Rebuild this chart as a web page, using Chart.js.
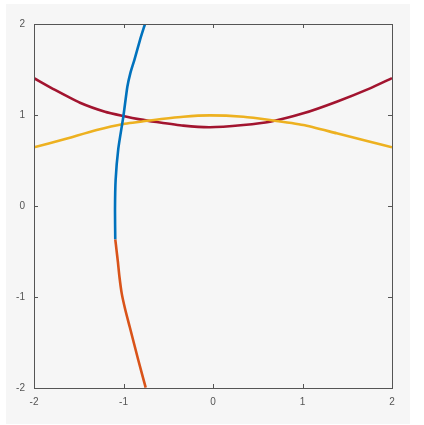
<!DOCTYPE html>
<html>
<head>
<meta charset="utf-8">
<script src="https://cdn.jsdelivr.net/npm/chart.js@4.4.1/dist/chart.umd.min.js"></script>
<style>
  html, body { margin: 0; padding: 0; background: #ffffff; }
  #wrap { position: absolute; left: 6px; top: 4px; width: 404px; height: 420px; background: #f6f6f6; }
</style>
</head>
<body>
<div id="wrap"><canvas id="chart" width="404" height="420"></canvas></div>
<script>
// axis ticks
const xTicks = [-2, -1, 0, 1, 2];
const yTicks = [-2, -1, 0, 1, 2];

// blue branch
const blueX = [-0.76, -0.816, -0.879, -0.924, -0.957, -1.002, -1.058, -1.088, -1.095, -1.092];
const blueY = [2.0, 1.824, 1.604, 1.458, 1.311, 0.981, 0.63, 0.286, -0.044, -0.366];

// orange branch
const orangeX = [-1.092, -1.078, -1.062, -1.045, -1.02, -0.98, -0.93, -0.835, -0.752];
const orangeY = [-0.366, -0.484, -0.62, -0.78, -0.96, -1.14, -1.33, -1.692, -1.996];

// yellow curve
const yellowX = [-2.0, -1.672, -1.3, -1.002, -0.704, -0.332, -0.034, 0.339, 0.637, 1.009, 1.382, 1.754, 2.0];
const yellowY = [0.645, 0.73, 0.835, 0.901, 0.94, 0.981, 0.996, 0.981, 0.945, 0.89, 0.799, 0.707, 0.645];

// crimson curve
const redX = [-2.0, -1.765, -1.486, -1.207, -1.002, -0.816, -0.629, -0.332, -0.034, 0.339, 0.637, 1.009, 1.382, 1.754, 2.0];
const redY = [1.405, 1.275, 1.135, 1.036, 0.989, 0.952, 0.923, 0.883, 0.865, 0.89, 0.926, 1.018, 1.146, 1.293, 1.405];

function pts(xs, ys) {
    return xs.map((x, i) => ({ x: x, y: ys[i] }));
}

function line(xs, ys, color) {
    return {
        data: pts(xs, ys),
        borderColor: color,
        borderWidth: 2.6,
        showLine: true,
        pointRadius: 0,
        tension: 0.2,
        fill: false
    };
}

// box round the plot and small inward ticks on every side
const boxPlugin = {
    id: "box",
    afterDraw(chart) {
        const ctx = chart.ctx;
        const a = chart.chartArea;
        const xs = chart.scales.x, ys = chart.scales.y;
        ctx.save();
        ctx.strokeStyle = "#555555";
        ctx.lineWidth = 1;
        ctx.strokeRect(a.left + 0.5, a.top + 0.5, a.right - a.left, a.bottom - a.top);
        ctx.beginPath();
        xTicks.forEach(v => {
            const p = Math.round(xs.getPixelForValue(v)) + 0.5;
            ctx.moveTo(p, a.bottom); ctx.lineTo(p, a.bottom - 4);
            ctx.moveTo(p, a.top); ctx.lineTo(p, a.top + 4);
        });
        yTicks.forEach(v => {
            const p = Math.round(ys.getPixelForValue(v)) + 0.5;
            ctx.moveTo(a.left, p); ctx.lineTo(a.left + 4, p);
            ctx.moveTo(a.right, p); ctx.lineTo(a.right - 4, p);
        });
        ctx.stroke();
        ctx.restore();
    }
};

new Chart(document.getElementById("chart"), {
    type: "scatter",
    data: {
        datasets: [
            line(blueX, blueY, "#0072BD"),
            line(orangeX, orangeY, "#D95319"),
            line(yellowX, yellowY, "#EDB120"),
            line(redX, redY, "#A2142F")
        ]
    },
    options: {
        responsive: false,
        animation: false,
        layout: { padding: { top: 20, right: 18, left: 0, bottom: 0 } },
        plugins: { legend: { display: false }, tooltip: { enabled: false } },
        scales: {
            x: {
                type: "linear", min: -2, max: 2,
                afterFit: s => { s.height = 36; },
                afterBuildTicks: s => { s.ticks = xTicks.map(v => ({ value: v })); },
                grid: { display: false, drawTicks: false },
                border: { display: false },
                ticks: { padding: 8, color: "#555555", font: { family: "Liberation Sans", size: 10 } }
            },
            y: {
                type: "linear", min: -2, max: 2,
                afterFit: s => { s.width = 28; },
                afterBuildTicks: s => { s.ticks = yTicks.map(v => ({ value: v })); },
                grid: { display: false, drawTicks: false },
                border: { display: false },
                ticks: { padding: 9, color: "#555555", font: { family: "Liberation Sans", size: 10 } }
            }
        }
    },
    plugins: [boxPlugin]
});
</script>
</body>
</html>
